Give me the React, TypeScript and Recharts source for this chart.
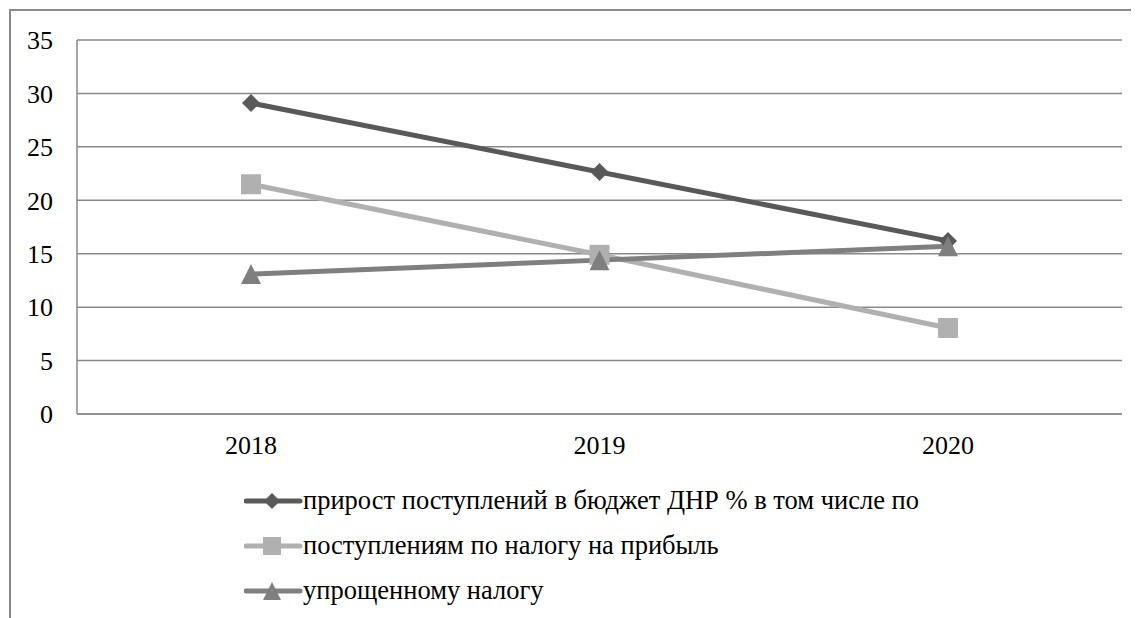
import React from 'react';
import { LineChart, Line, XAxis, YAxis, CartesianGrid, Legend } from 'recharts';

const years = ['2018', '2019', '2020'];
const growthTotal = [29.1, 22.65, 16.2];
const profitTax = [21.5, 14.9, 8.05];
const simplifiedTax = [13.1, 14.4, 15.7];
const yTicks = [0, 5, 10, 15, 20, 25, 30, 35];
const seriesNames = [
  'прирост поступлений в бюджет ДНР % в том числе по',
  'поступлениям по налогу на прибыль',
  'упрощенному налогу',
];
const colors = ['#595959', '#b0b0b0', '#7f7f7f'];

const data = years.map((y, i) => ({
  year: y,
  s0: growthTotal[i],
  s1: profitTax[i],
  s2: simplifiedTax[i],
}));

const FONT = "'Liberation Serif', 'Times New Roman', 'DejaVu Serif'";

const Diamond = (props: any) => {
  const { cx, cy, fill, r = 9 } = props;
  if (cx == null || cy == null) return null;
  return <polygon points={`${cx},${cy - r} ${cx + r},${cy} ${cx},${cy + r} ${cx - r},${cy}`} fill={fill} />;
};
const Square = (props: any) => {
  const { cx, cy, fill, r = 10 } = props;
  if (cx == null || cy == null) return null;
  return <rect x={cx - r} y={cy - r} width={2 * r} height={2 * r} fill={fill} />;
};
const Triangle = (props: any) => {
  const { cx, cy, fill, r = 10 } = props;
  if (cx == null || cy == null) return null;
  return <polygon points={`${cx},${cy - r} ${cx + r},${cy + r} ${cx - r},${cy + r}`} fill={fill} />;
};

const markers = [Diamond, Square, Triangle];

const LegendContent = () => (
  <div style={{ fontFamily: FONT, fontSize: 26.5, color: '#000' }}>
    {seriesNames.map((name, i) => {
      const M = markers[i];
      return (
        <div key={name} style={{ height: 45, display: 'flex', alignItems: 'center', whiteSpace: 'nowrap' }}>
          <svg width={59} height={22} style={{ display: 'block' }}>
            <line x1={2} y1={11} x2={56} y2={11} stroke={colors[i]} strokeWidth={5} strokeLinecap="round" />
            <M cx={28} cy={11} fill={colors[i]} r={i === 0 ? 8 : 9} />
          </svg>
          <span>{name}</span>
        </div>
      );
    })}
  </div>
);

const renderDot = (i: number) => (props: any) => {
  const M = markers[i];
  return <M key={`d${i}-${props.index}`} cx={props.cx} cy={props.cy} fill={colors[i]} r={i === 0 ? 9 : 10} />;
};

const tickStyle = { fill: '#000', fontSize: 26, fontFamily: FONT };

export default function App() {
  return (
    <div style={{ position: 'relative', width: 1131, height: 610, overflow: 'hidden', background: '#fff', fontFamily: FONT }}>
      <div
        style={{
          position: 'absolute',
          left: 1,
          top: 1,
          width: 1300,
          height: 800,
          border: '2px solid #898989',
          boxSizing: 'border-box',
        }}
      />
      <div style={{ position: 'absolute', left: 0, top: 0 }}>
        <LineChart width={1131} height={610} data={data} margin={{ top: 32, right: 17, bottom: 164, left: 0 }}>
          <CartesianGrid vertical={false} stroke="#898989" strokeWidth={1.5} />
          <XAxis
            dataKey="year"
            padding={{ left: 174, right: 174 }}
            axisLine={{ stroke: '#898989', strokeWidth: 1.5 }}
            tickLine={false}
            tickSize={6}
            tickMargin={16}
            height={40}
            tick={tickStyle}
          />
          <YAxis
            domain={[0, 35]}
            ticks={yTicks}
            interval={0}
            axisLine={{ stroke: '#898989', strokeWidth: 1.5 }}
            tickLine={false}
            tickSize={6}
            tickMargin={18}
            width={69}
            tick={tickStyle}
          />
          <Legend
            layout="vertical"
            align="center"
            verticalAlign="middle"
            content={<LegendContent />}
            wrapperStyle={{ left: 236, top: 470, width: 850 }}
          />
          <Line dataKey="s0" name={seriesNames[0]} stroke={colors[0]} strokeWidth={5} dot={renderDot(0)} activeDot={false} isAnimationActive={false} />
          <Line dataKey="s1" name={seriesNames[1]} stroke={colors[1]} strokeWidth={5} dot={renderDot(1)} activeDot={false} isAnimationActive={false} />
          <Line dataKey="s2" name={seriesNames[2]} stroke={colors[2]} strokeWidth={5} dot={renderDot(2)} activeDot={false} isAnimationActive={false} />
        </LineChart>
      </div>
    </div>
  );
}
